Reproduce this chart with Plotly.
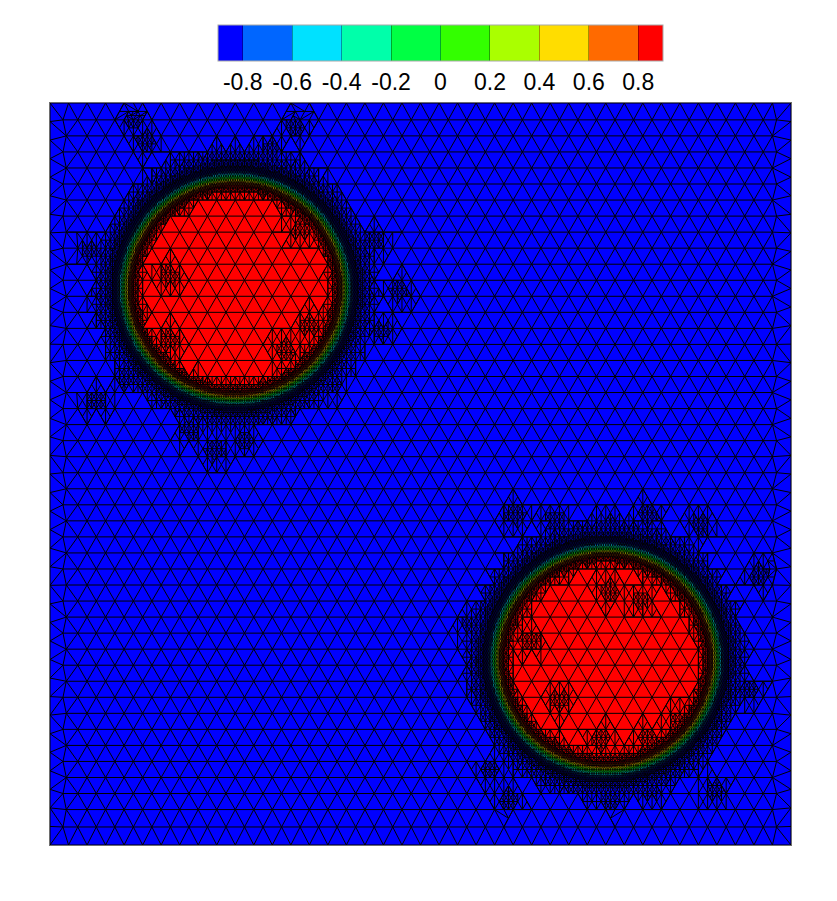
import numpy as np
import plotly.graph_objects as go

# ---- values (domain is the unit square) ----
level_ticks = [-0.8, -0.6, -0.4, -0.2, 0, 0.2, 0.4, 0.6, 0.8]
tick_labels = ["-0.8", "-0.6", "-0.4", "-0.2", "0", "0.2", "0.4", "0.6", "0.8"]
band_colors = ["#0000ff", "#0066ff", "#00e1ff", "#00ffaa", "#00ff44",
               "#33ff00", "#aaff00", "#ffdd00", "#ff6a00", "#ff0000"]
value_range = [-0.9, 0.9]

circle_x = [0.25, 0.75]
circle_y = [0.75, 0.25]
circle_r = 0.15
# field value against signed distance from the interface
profile_dist = [-0.016, -0.010, -0.005, 0.0, 0.005, 0.010, 0.016]
profile_val = [0.95, 0.85, 0.55, 0.0, -0.55, -0.85, -0.95]

# mesh: background lattice
cells_per_side = 40
row_offset = 0.0011
row_spacing = 0.021617
last_rows_y = [0.0243, 0.0]      # the two bottom rows sit a little apart
# mesh: refinement bands (signed distance -> bisection depth)
band_edges = [-0.028, -0.020, -0.013, -0.006, 0.006, 0.016, 0.024, 0.034, 0.044]
band_depths = [3, 5, 7, 6, 7, 5, 4, 3]
# mesh: patches of local refinement seen around and inside the circles
patch_x = [.115, .129, .331, .297, .055, .075, .062, .102, .223, .189, .263, .439, .472, .446, .378,
           .627, .681, .755, .809, .877, .958, .567, .944, .621, .755, .897, .594, .809,
           .162, .338, .351, .317, .162, .755, .796, .688, .742, .809, .849, .648]
patch_y = [.977, .950, .970, .937, .802, .721, .600, .627, .532, .559, .546, .815, .748, .694, .620,
           .445, .438, .431, .445, .431, .364, .297, .209, .061, .061, .074, .101, .074,
           .768, .829, .701, .667, .681, .344, .330, .195, .142, .142, .168, .276]
patch_radius = 0.026
patch_depth = 4

# ---- mesh construction ----
h = 1.0 / cells_per_side
n_rows = 46
rows = []
for j in range(n_rows + 1):
    if j == 0:
        y = 1.0
    elif j <= 44:
        y = 1 - row_offset - j * row_spacing
    else:
        y = last_rows_y[j - 45]
    if j % 2 == 0:
        xs = [i * h for i in range(cells_per_side + 1)]
        if 0 < j < n_rows:
            xs = xs[1:-1]
            xs[0] -= 0.003
    else:
        xs = [(i + 0.5) * h for i in range(cells_per_side)]
        xs[0] += 0.005
        xs[-1] -= 0.007
    rows.append([(x, y) for x in xs])


def zipper(a, b):
    tris = []
    i = k = 0
    while i < len(a) - 1 or k < len(b) - 1:
        if i == len(a) - 1:
            adv_a = False
        elif k == len(b) - 1:
            adv_a = True
        else:
            adv_a = np.hypot(a[i + 1][0] - b[k][0], a[i + 1][1] - b[k][1]) <= \
                np.hypot(a[i][0] - b[k + 1][0], a[i][1] - b[k + 1][1])
        if adv_a:
            tris.append((a[i], a[i + 1], b[k]))
            i += 1
        else:
            tris.append((a[i], b[k + 1], b[k]))
            k += 1
    return tris


tris = []
for j in range(n_rows):
    tris += zipper(rows[j], rows[j + 1])
side = [k * h for k in range(cells_per_side + 1)]
tris += zipper([(0.0, 1 - s) for s in side], [r[0] for r in rows[1:n_rows]])
tris += zipper([(1.0, 1 - s) for s in side], [r[-1] for r in rows[1:n_rows]])


def wanted_depth(cx, cy):
    d = 0
    for c_x, c_y in zip(circle_x, circle_y):
        s = np.hypot(cx - c_x, cy - c_y) - circle_r
        for e0, e1, dep in zip(band_edges[:-1], band_edges[1:], band_depths):
            if e0 <= s < e1:
                d = max(d, dep)
    for px, py in zip(patch_x, patch_y):
        dist = np.hypot(cx - px, cy - py)
        if dist < patch_radius:
            d = max(d, patch_depth if dist < 0.5 * patch_radius else 2)
    return d


fine, coarse = set(), set()


def key(p, q):
    a = (round(p[0], 5), round(p[1], 5))
    b = (round(q[0], 5), round(q[1], 5))
    return (a, b) if a < b else (b, a)


def refine(t, depth):
    a, b, c = t
    cx, cy = (a[0] + b[0] + c[0]) / 3, (a[1] + b[1] + c[1]) / 3
    if depth >= wanted_depth(cx, cy):
        target = fine if depth >= 6 else coarse
        target.add(key(a, b)); target.add(key(b, c)); target.add(key(c, a))
        return
    edges = [(a, b, c), (b, c, a), (c, a, b)]

    def score(e):
        p, q, _ = e
        horiz = 1e-6 if abs(p[1] - q[1]) < 1e-9 else 0
        return np.hypot(p[0] - q[0], p[1] - q[1]) + horiz
    p, q, o = max(edges, key=score)
    m = ((p[0] + q[0]) / 2, (p[1] + q[1]) / 2)
    refine((p, m, o), depth + 1)
    refine((m, q, o), depth + 1)


for t in tris:
    refine(t, 0)


def to_xy(edges):
    xs, ys = [], []
    for p, q in edges:
        xs += [p[0], q[0], None]
        ys += [p[1], q[1], None]
    return xs, ys


# ---- field ----
gx = np.linspace(0, 1, 743)
gy = np.linspace(0, 1, 743)
X, Y = np.meshgrid(gx, gy)
dist = np.minimum(np.hypot(X - circle_x[0], Y - circle_y[0]),
                  np.hypot(X - circle_x[1], Y - circle_y[1])) - circle_r
Z = np.round(np.interp(dist, profile_dist, profile_val), 2)

stops = [value_range[0]] + level_ticks + [value_range[1]]
span = value_range[1] - value_range[0]
scale = []
for col, lo, hi in zip(band_colors, stops[:-1], stops[1:]):
    scale += [[(lo - value_range[0]) / span, col], [(hi - value_range[0]) / span, col]]

fig = go.Figure()
fig.add_trace(go.Heatmap(
    x=gx, y=gy, z=Z, zmin=value_range[0], zmax=value_range[1],
    colorscale=scale, hoverinfo="skip",
    colorbar=dict(
        orientation="h", x=0.527, xanchor="center", y=1.105, yanchor="top",
        len=445, lenmode="pixels", thickness=36, thicknessmode="pixels",
        outlinecolor="#a8a8a8", outlinewidth=1, borderwidth=0, xpad=0, ypad=0,
        tickmode="array", tickvals=level_ticks, ticktext=tick_labels,
        ticks="inside", ticklen=36, tickwidth=1, tickcolor="rgba(0,0,0,0.35)",
        tickfont=dict(family="Liberation Sans", size=23, color="black"),
    ),
))
for edges, w in ((coarse, 1.0), (fine, 0.75)):
    ex, ey = to_xy(edges)
    fig.add_trace(go.Scatter(x=ex, y=ey, mode="lines", line=dict(color="black", width=w),
                             hoverinfo="skip", showlegend=False))

axis = dict(range=[0, 1], showgrid=False, zeroline=False, showticklabels=False, ticks="",
            showline=True, mirror=True, linecolor="#6e6e6e", linewidth=1)
fig.update_layout(
    width=829, height=893, paper_bgcolor="white", plot_bgcolor="white",
    margin=dict(l=41.5, r=45.5, t=95, b=56, pad=0, autoexpand=False),
    xaxis=axis, yaxis=axis, showlegend=False,
)
fig.write_html("out.html")
